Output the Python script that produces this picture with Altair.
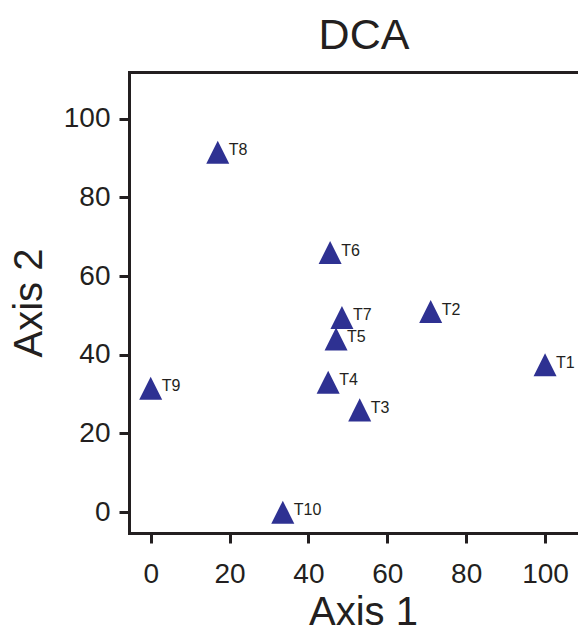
import altair as alt
import pandas as pd

# ---- data ----
labels = ["T1", "T2", "T3", "T4", "T5", "T6", "T7", "T8", "T9", "T10"]
axis1 = [100, 71, 53, 45, 47, 45.5, 48.5, 17, 0, 33.5]
axis2 = [37.5, 51, 26, 33, 44, 66, 49.5, 91.5, 31.5, 0]
tick_values = [0, 20, 40, 60, 80, 100]

df = pd.DataFrame({"label": labels, "a1": axis1, "a2": axis2})

W, H = 449, 461
X_DOM = [-5.5, 108.35]
Y_DOM = [-5.3, 111.9]
INK = "#231F20"
BLUE = "#2E3192"
FONT = "Liberation Sans"
TRI = "M0,-1L1,1L-1,1Z"

xs = alt.Scale(domain=X_DOM, nice=False, zero=False)
ys = alt.Scale(domain=Y_DOM, nice=False, zero=False)

common_axis = dict(
    domain=True, domainColor=INK, domainWidth=3, domainCap="square",
    grid=False,
)

x_bottom = alt.Axis(
    orient="bottom", values=tick_values, title="Axis 1",
    ticks=True, tickColor=INK, tickWidth=3, tickSize=10,
    labelFont=FONT, labelFontSize=28, labelColor=INK, labelPadding=17,
    titleFont=FONT, titleFontSize=40, titleFontWeight="normal", titleColor=INK,
    titleBaseline="alphabetic", titleY=91, titleX=234,
    **common_axis,
)
x_top = alt.Axis(
    orient="top", title="DCA", ticks=False, labels=False,
    titleFont=FONT, titleFontSize=43, titleFontWeight="normal", titleColor=INK,
    titleBaseline="alphabetic", titleY=-24, titleX=234.5,
    **common_axis,
)
y_left = alt.Axis(
    orient="left", values=tick_values, title="Axis 2",
    ticks=True, tickColor=INK, tickWidth=3, tickSize=10,
    labelFont=FONT, labelFontSize=28, labelColor=INK, labelPadding=9,
    titleFont=FONT, titleFontSize=40, titleFontWeight="normal", titleColor=INK,
    titleBaseline="alphabetic", titleX=-87.5,
    **common_axis,
)

points = alt.Chart(df).mark_point(
    shape=TRI, filled=True, size=530, color=BLUE, opacity=1, strokeWidth=0
).encode(
    x=alt.X("a1:Q", scale=xs, axis=x_bottom),
    y=alt.Y("a2:Q", scale=ys, axis=y_left),
)

texts = alt.Chart(df).mark_text(
    align="left", baseline="middle", dx=11, dy=-2,
    fontSize=16, font=FONT, color=INK,
).encode(
    x=alt.X("a1:Q", scale=xs, axis=x_top),
    y=alt.Y("a2:Q", scale=ys),
    text="label:N",
)

chart = alt.layer(points, texts).resolve_axis(x="independent").properties(
    width=W, height=H,
    autosize=alt.AutoSizeParams(type="none"),
    padding={"left": 121, "top": 64, "right": 0, "bottom": 92},
    background="white",
).configure_view(stroke=None)

chart.save("out.html", embed_options={"renderer": "svg", "actions": False})
